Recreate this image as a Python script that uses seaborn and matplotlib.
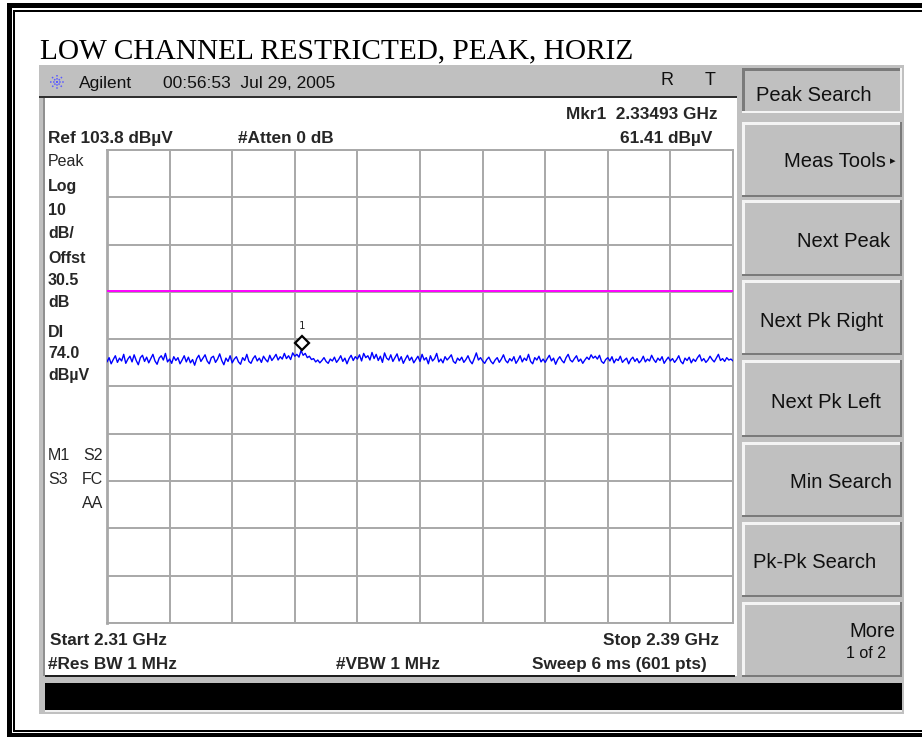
import numpy as np
import matplotlib
matplotlib.use("Agg")
import matplotlib.pyplot as plt
import matplotlib.transforms as mtransforms
from matplotlib.patches import Rectangle
import seaborn as sns

# ---------------- data ----------------
title = "LOW CHANNEL RESTRICTED, PEAK, HORIZ"
start_ghz = 2.31
stop_ghz = 2.39
ref_level = 103.8
db_per_div = 10
display_line = 74.0
marker_freq = 2.33493
marker_level = 61.41

trace_levels = [
    59.0, 59.9, 58.6, 59.5, 60.3, 58.9, 59.8, 59.2, 60.6, 58.7, 59.6, 60.2, 59.0, 60.5, 59.3,
    58.4, 59.9, 60.4, 59.1, 60.0, 58.8, 59.7, 60.6, 59.2, 58.5, 59.8, 60.3, 59.4, 60.8, 59.0,
    59.6, 58.7, 60.1, 59.3, 59.9, 58.6, 59.4, 60.3, 59.0, 60.0, 58.8, 59.5, 58.3, 59.7, 60.4,
    59.1, 59.8, 60.5, 59.2, 58.6, 59.9, 60.2, 58.9, 59.6, 60.7, 59.3, 58.4, 59.8, 59.1, 60.3,
    58.8, 59.6, 60.1, 59.0, 58.5, 59.9, 59.3, 60.6, 59.1, 58.7, 59.7, 60.3, 59.2, 59.8, 58.9,
    60.2, 59.5, 59.0, 60.4, 59.3, 59.9, 60.6, 59.4, 60.1, 59.6, 60.8, 59.7, 60.3, 59.5, 60.9,
    60.2, 60.6, 60.0, 61.41, 60.4, 60.8, 59.9, 60.2, 59.5, 59.7, 59.0, 59.4, 58.8, 59.3, 59.9,
    59.1, 58.7, 59.6, 59.2, 60.0, 58.9, 59.5, 60.3, 59.1, 59.8, 58.6, 59.7, 60.4, 59.3, 60.1,
    59.6, 60.5, 59.2, 60.8, 59.9, 60.3, 59.4, 61.0, 59.7, 60.6, 59.3, 60.2, 58.9, 60.9, 59.8,
    59.4, 60.5, 59.1, 59.9, 60.7, 59.2, 60.1, 58.7, 59.6, 60.4, 59.3, 60.0, 58.8, 59.5, 60.2,
    59.1, 60.6, 59.4, 59.9, 58.6, 60.3, 59.2, 59.7, 60.8, 59.0, 59.6, 58.8, 60.1, 59.4, 59.9,
    60.5, 59.1, 58.7, 59.8, 59.3, 60.0, 58.9, 59.5, 60.3, 59.2, 58.6, 59.7, 60.9, 59.4, 59.9,
    59.2, 58.7, 59.5, 60.0, 59.1, 58.6, 59.4, 59.9, 58.9, 59.6, 60.5, 59.3, 58.8, 59.7, 59.2,
    60.1, 58.7, 59.4, 60.3, 59.0, 59.8, 59.3, 60.6, 59.1, 58.6, 59.9, 59.4, 60.2, 59.0, 59.6,
    58.9, 59.7, 60.4, 59.2, 59.8, 58.5, 59.5, 60.1, 59.3, 58.8, 59.9, 60.6, 59.4, 59.0, 59.7,
    60.3, 59.1, 59.6, 58.7, 59.4, 60.0, 59.5, 60.5, 59.8, 60.2, 59.6, 60.4, 59.1, 58.7, 59.5,
    59.9, 59.2, 60.1, 58.8, 59.6, 59.3, 60.2, 58.9, 59.4, 59.8, 58.6, 59.5, 60.0, 59.1, 59.7,
    58.8, 59.3, 60.2, 59.0, 59.6, 59.2, 60.4, 59.5, 58.9, 59.8, 59.3, 60.1, 58.7, 59.4, 60.0,
    59.2, 59.7, 58.9, 59.5, 60.3, 59.1, 58.6, 59.8, 59.3, 60.0, 58.8, 59.6, 59.1, 59.9, 60.5,
    59.2, 59.7, 58.9, 59.4, 60.2, 59.5, 59.0, 59.8, 60.6, 59.3, 59.7, 59.1, 59.9, 59.4, 59.6,
    59.2,
]

left_labels = ["Peak", "Log", "10", "dB/", "Offst", "30.5", "dB", "DI", "74.0", "dBµV"]
softkeys = ["Peak Search", "Meas Tools", "Next Peak", "Next Pk Right",
            "Next Pk Left", "Min Search", "Pk-Pk Search", "More"]

# ---------------- setup ----------------
sns.set_style("white")
plt.rcParams['font.family'] = ['Liberation Sans', 'DejaVu Sans']

W, H = 922, 738
fig = plt.figure(figsize=(W / 100, H / 100), dpi=100)
fig.patch.set_facecolor('white')

bg = fig.add_axes([0, 0, 1, 1], zorder=0)
bg.set_xlim(0, W)
bg.set_ylim(H, 0)
bg.axis('off')


def rect(x0, y0, x1, y1, color, z=1):
    bg.add_patch(Rectangle((x0, y0), x1 - x0, y1 - y0, facecolor=color,
                           edgecolor='none', zorder=z))


# page double border
rect(7, 3, W, 8, 'black')
rect(7, 3, 12, 737, 'black')
rect(7, 733, W, 737, 'black')
rect(13, 10, W, 12, 'black')
rect(13, 10, 15, 732, 'black')
rect(13, 730, W, 732, 'black')

# instrument screen
rect(39, 65, 904, 714, '#c0c0c0')
rect(45, 98, 737, 676, 'white', 2)
rect(43, 98, 45, 676, '#909090', 2)
rect(39, 95.5, 737, 97.5, '#303030', 2)
rect(45, 675, 735, 677, '#202020', 2)
rect(45, 683, 902, 710, 'black', 2)
rect(45, 710, 902, 712, '#f0f0f0', 2)

# softkeys
btn_rows = [(68, 113), (122, 197), (200, 276), (280, 355), (360, 437),
            (442, 517), (522, 597), (602, 677)]
bx0, bx1 = 742, 902
for i, (y0, y1) in enumerate(btn_rows):
    rect(bx0, y0, bx1, y1, '#c0c0c0', 3)
    light, dark = ('#f4f4f4', '#7a7a7a')
    if i == 0:
        light, dark = dark, light
    rect(bx0, y0, bx1, y0 + 2.5, light, 4)
    rect(bx0, y0, bx0 + 2.5, y1, light, 4)
    rect(bx0, y1 - 2.5, bx1, y1, dark, 4)
    rect(bx1 - 2.5, y0, bx1, y1, dark, 4)

btn_font = 14.5
tc = '#101010'
bg.text(756, 101, softkeys[0], fontsize=btn_font, color=tc, ha='left', va='baseline', zorder=5)
bg.text(886, 167, softkeys[1], fontsize=btn_font, color=tc, ha='right', va='baseline', zorder=5)
bg.text(893, 161, "\u25B8", fontsize=8, color=tc, ha='center', va='center', zorder=5,
        family=['DejaVu Sans'])
bg.text(890, 247, softkeys[2], fontsize=btn_font, color=tc, ha='right', va='baseline', zorder=5)
bg.text(822, 327, softkeys[3], fontsize=btn_font, color=tc, ha='center', va='baseline', zorder=5)
bg.text(826, 408, softkeys[4], fontsize=btn_font, color=tc, ha='center', va='baseline', zorder=5)
bg.text(892, 488, softkeys[5], fontsize=btn_font, color=tc, ha='right', va='baseline', zorder=5)
bg.text(753, 568, softkeys[6], fontsize=btn_font, color=tc, ha='left', va='baseline', zorder=5)
bg.text(895, 637, softkeys[7], fontsize=btn_font, color=tc, ha='right', va='baseline', zorder=5)
bg.text(886, 658, "1 of 2", fontsize=11.5, color=tc, ha='right', va='baseline', zorder=5)

# title
bg.text(40, 58, title, fontsize=21.2, family=['Liberation Serif', 'DejaVu Serif'],
        color='black', ha='left', va='baseline', zorder=5)

# header bar
cx, cy, r = 57, 82, 7
for ang in (0, 45, 90, 135):
    a = np.deg2rad(ang)
    bg.plot([cx - r * np.cos(a), cx + r * np.cos(a)], [cy - r * np.sin(a), cy + r * np.sin(a)],
            color='#5a5aff', lw=1.1, ls=(0, (1, 1)), zorder=5)
hdr = 12.5
bg.text(79, 88, "Agilent", fontsize=hdr, color='#101010', ha='left', va='baseline', zorder=5)
bg.text(163, 88, "00:56:53  Jul 29, 2005", fontsize=hdr, color='#101010', ha='left', va='baseline', zorder=5)
bg.text(667, 85, "R", fontsize=13, color='#101010', ha='center', va='baseline', zorder=5)
bg.text(710, 85, "T", fontsize=13, color='#101010', ha='center', va='baseline', zorder=5)

# annotations in display
bf = 12.4
bg.text(717, 119, "Mkr1  2.33493 GHz", fontsize=bf, fontweight='bold', ha='right', va='baseline', zorder=5)
bg.text(712, 143, "61.41 dBµV", fontsize=bf, fontweight='bold', ha='right', va='baseline', zorder=5)
bg.text(48, 143, "Ref 103.8 dBµV", fontsize=bf, fontweight='bold', ha='left', va='baseline', zorder=5)
bg.text(238, 143, "#Atten 0 dB", fontsize=bf, fontweight='bold', ha='left', va='baseline', zorder=5)

label_baselines = [166, 191, 215, 238, 263, 285, 307, 337, 358, 380]
for lab, yb in zip(left_labels, label_baselines):
    bg.text(48, yb, lab, fontsize=11.5, fontweight='normal' if lab == "Peak" else 'bold',
            ha='left', va='baseline', zorder=5)

bg.text(48, 460, "M1", fontsize=11.5, ha='left', va='baseline', zorder=5)
bg.text(103, 460, "S2", fontsize=11.5, ha='right', va='baseline', zorder=5)
bg.text(48, 484, "S3", fontsize=11.5, ha='left', va='baseline', zorder=5)
bg.text(103, 484, "FC", fontsize=11.5, ha='right', va='baseline', zorder=5)
bg.text(103, 508, "AA", fontsize=11.5, ha='right', va='baseline', zorder=5)

bg.text(50, 645, "Start 2.31 GHz", fontsize=bf, fontweight='bold', ha='left', va='baseline', zorder=5)
bg.text(48, 669, "#Res BW 1 MHz", fontsize=bf, fontweight='bold', ha='left', va='baseline', zorder=5)
bg.text(336, 669, "#VBW 1 MHz", fontsize=bf, fontweight='bold', ha='left', va='baseline', zorder=5)
bg.text(719, 645, "Stop 2.39 GHz", fontsize=bf, fontweight='bold', ha='right', va='baseline', zorder=5)
bg.text(707, 669, "Sweep 6 ms (601 pts)", fontsize=bf, fontweight='bold', ha='right', va='baseline', zorder=5)

# ---------------- graticule + trace ----------------
gx0, gx1, gy0, gy1 = 107, 733, 150, 623
ax = fig.add_axes([gx0 / W, 1 - gy1 / H, (gx1 - gx0) / W, (gy1 - gy0) / H], zorder=2)
ax.set_facecolor('white')
bottom_level = ref_level - 10 * db_per_div
ax.set_xlim(start_ghz, stop_ghz)
ax.set_ylim(bottom_level, ref_level)
ax.set_xticks(np.linspace(start_ghz, stop_ghz, 11))
ax.set_yticks(np.linspace(bottom_level, ref_level, 11))
ax.grid(True, color='#a8a8a8', lw=1.4)
ax.tick_params(length=0, labelbottom=False, labelleft=False)
for side, sp in ax.spines.items():
    sp.set_color('#a8a8a8')
    sp.set_linewidth(2.0 if side == 'left' else 1.4)

freqs = np.linspace(start_ghz, stop_ghz, len(trace_levels))
sns.lineplot(x=freqs, y=trace_levels, ax=ax, color='#0000ff', lw=1.0, zorder=3)
ax.axhline(display_line, color='#ff00ff', lw=1.4, zorder=3)
ax.set_xlabel('')
ax.set_ylabel('')

off = ax.transData + mtransforms.ScaledTranslation(0, 0.075, fig.dpi_scale_trans)
ax.plot([marker_freq], [marker_level], marker='D', ms=7.5, mfc='white', mec='black',
        mew=1.6, ls='none', transform=off, zorder=4, clip_on=False)
ax.annotate("1", (marker_freq, marker_level), xytext=(0, 17.5), textcoords='offset points',
            ha='center', va='center', fontsize=7.5, family=['DejaVu Sans Mono'], zorder=4)

fig.savefig("out.png", dpi=100)
